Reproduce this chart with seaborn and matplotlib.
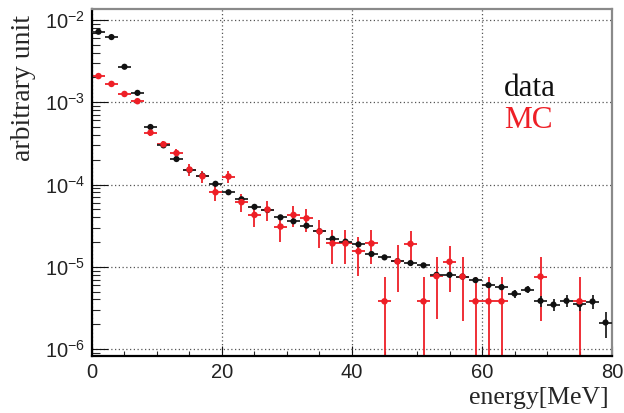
import matplotlib
matplotlib.use("Agg")
import numpy as np
import pandas as pd
import matplotlib.pyplot as plt
import seaborn as sns
from matplotlib.ticker import LogLocator, NullFormatter, MultipleLocator, FixedLocator

# ---------------- data ----------------
data_energy = [1, 3, 5, 7, 9, 11, 13, 15, 17, 19, 21, 23, 25, 27, 29, 31, 33, 35, 37, 39,
               41, 43, 45, 47, 49, 51, 53, 55, 57, 59, 61, 63, 65, 67, 69, 71, 73, 75, 77, 79]
data_vals = [7.2e-3, 6.2e-3, 2.7e-3, 1.3e-3, 5.0e-4, 2.99e-4, 2.04e-4, 1.5e-4, 1.28e-4, 1.02e-4,
             8.05e-5, 6.62e-5, 5.35e-5, 4.9e-5, 3.99e-5, 3.57e-5, 3.16e-5, 2.7e-5, 2.19e-5, 2.02e-5,
             1.87e-5, 1.43e-5, 1.30e-5, 1.17e-5, 1.11e-5, 1.04e-5, 7.98e-6, 7.98e-6, 7.6e-6, 6.88e-6,
             5.98e-6, 5.65e-6, 4.72e-6, 5.29e-6, 3.85e-6, 3.47e-6, 3.85e-6, 3.5e-6, 3.78e-6, 2.1e-6]
data_errs = [7e-5, 6e-5, 3e-5, 2e-5, 1e-5, 7e-6, 5e-6, 4e-6, 4e-6, 3e-6,
             3e-6, 2.5e-6, 2.2e-6, 2e-6, 1.8e-6, 1.7e-6, 1.6e-6, 1.4e-6, 1.2e-6, 1.1e-6,
             1.0e-6, 9e-7, 8.5e-7, 8e-7, 7.5e-7, 7.5e-7, 6.5e-7, 6.5e-7, 6e-7, 5e-7,
             4.5e-7, 4.5e-7, 5e-7, 5.5e-7, 6e-7, 6e-7, 6.5e-7, 6e-7, 7.5e-7, 7.5e-7]

mc_energy = [1, 3, 5, 7, 9, 11, 13, 15, 17, 19, 21, 23, 25, 27, 29, 31, 33, 35, 37, 39,
             41, 43, 45, 47, 49, 51, 53, 55, 57, 59, 61, 63, 69, 75]
mc_vals = [2.08e-3, 1.67e-3, 1.26e-3, 1.03e-3, 4.27e-4, 3.08e-4, 2.41e-4, 1.52e-4, 1.26e-4, 8.05e-5,
           1.25e-4, 6.1e-5, 4.27e-5, 4.96e-5, 3.08e-5, 4.27e-5, 3.88e-5, 2.69e-5, 1.92e-5, 1.92e-5,
           1.54e-5, 1.92e-5, 3.8e-6, 1.16e-5, 1.9e-5, 3.8e-6, 7.7e-6, 1.15e-5, 7.6e-6, 3.8e-6,
           3.8e-6, 3.8e-6, 7.6e-6, 3.8e-6]
mc_errs = [8.9e-5, 7.96e-5, 6.9e-5, 6.3e-5, 4.0e-5, 3.4e-5, 3.0e-5, 2.4e-5, 2.19e-5, 1.74e-5,
           2.19e-5, 1.52e-5, 1.26e-5, 1.37e-5, 1.07e-5, 1.26e-5, 1.2e-5, 1.0e-5, 8.5e-6, 8.5e-6,
           7.6e-6, 8.5e-6, 3.8e-6, 6.6e-6, 8.5e-6, 3.8e-6, 5.4e-6, 6.6e-6, 5.4e-6, 3.8e-6,
           3.8e-6, 3.8e-6, 5.4e-6, 3.8e-6]
bin_half_width = 1.0

x_ticks = [0, 20, 40, 60, 80]
legend_labels = ["data", "MC"]

# ---------------- style ----------------
sns.set_style("white")
plt.rcParams["font.family"] = ["Liberation Sans", "DejaVu Sans"]
plt.rcParams["mathtext.fontset"] = "custom"
plt.rcParams["mathtext.rm"] = "Liberation Sans"
plt.rcParams["mathtext.it"] = "Liberation Sans:italic"
plt.rcParams["mathtext.bf"] = "Liberation Sans:bold"

RED = "#ee1f26"
BLACK = "#111111"
TICKTXT = "#222222"

df_data = pd.DataFrame({"energy": data_energy, "value": data_vals, "err": data_errs})
df_mc = pd.DataFrame({"energy": mc_energy, "value": mc_vals, "err": mc_errs})

fig, ax = plt.subplots(figsize=(6.24, 4.13), dpi=100)
fig.subplots_adjust(left=0.1474, right=0.9808, bottom=0.1388, top=0.9782)

ax.set_yscale("log")

ax.errorbar(df_mc["energy"], df_mc["value"], yerr=df_mc["err"], xerr=bin_half_width,
            fmt="none", ecolor=RED, elinewidth=1.3, capsize=0, zorder=2)
ax.errorbar(df_data["energy"], df_data["value"], yerr=df_data["err"], xerr=bin_half_width,
            fmt="none", ecolor="#222222", elinewidth=1.3, capsize=0, zorder=3)
sns.scatterplot(data=df_data, x="energy", y="value", color=BLACK, s=20, edgecolor="none",
                linewidth=0, legend=False, zorder=4, ax=ax)
sns.scatterplot(data=df_mc, x="energy", y="value", color=RED, s=22, edgecolor="none",
                linewidth=0, legend=False, zorder=5, ax=ax)

ax.set_xlim(0, 80)
ax.set_ylim(8.3e-7, 1.36e-2)

ax.xaxis.set_major_locator(FixedLocator(x_ticks))
ax.xaxis.set_minor_locator(MultipleLocator(5))
ax.yaxis.set_major_locator(LogLocator(base=10, numticks=20))
ax.yaxis.set_minor_locator(LogLocator(base=10, subs=np.arange(2, 10), numticks=20))
ax.yaxis.set_minor_formatter(NullFormatter())

ax.tick_params(axis="y", which="major", direction="in", length=11.5, width=0.8,
               labelsize=14.5, pad=5, color=BLACK, labelcolor=TICKTXT, left=True, right=False)
ax.tick_params(axis="y", which="minor", direction="in", length=5.8, width=0.8, left=True, right=False)
ax.tick_params(axis="x", which="major", direction="in", length=7.5, width=0.8,
               labelsize=14.5, pad=5, color=BLACK, labelcolor=TICKTXT, bottom=True, top=False)
ax.tick_params(axis="x", which="minor", direction="in", length=3.7, width=0.8, bottom=True, top=False)

ax.grid(True, which="major", linestyle=(0, (1, 2)), color="#555555", linewidth=0.9)
ax.set_axisbelow(True)

for side in ["left", "bottom"]:
    ax.spines[side].set_color("black")
    ax.spines[side].set_linewidth(1.6)
for side in ["top", "right"]:
    ax.spines[side].set_color("#8a8a8a")
    ax.spines[side].set_linewidth(1.6)

ax.set_xlabel("energy[MeV]", family="Liberation Serif", fontsize=18.5, loc="right")
ax.set_ylabel("arbitrary unit", family="Liberation Serif", fontsize=20, loc="top")
ax.xaxis.set_label_coords(0.994, -0.09)
ax.yaxis.set_label_coords(-0.108, 0.983)

ax.text(0.792, 0.749, legend_labels[0], transform=ax.transAxes, family="Liberation Serif",
        fontsize=22.5, color=BLACK, ha="left", va="baseline")
ax.text(0.792, 0.657, legend_labels[1], transform=ax.transAxes, family="Liberation Serif",
        fontsize=22.5, color=RED, ha="left", va="baseline")

fig.savefig("out.png", dpi=100, facecolor="white")
